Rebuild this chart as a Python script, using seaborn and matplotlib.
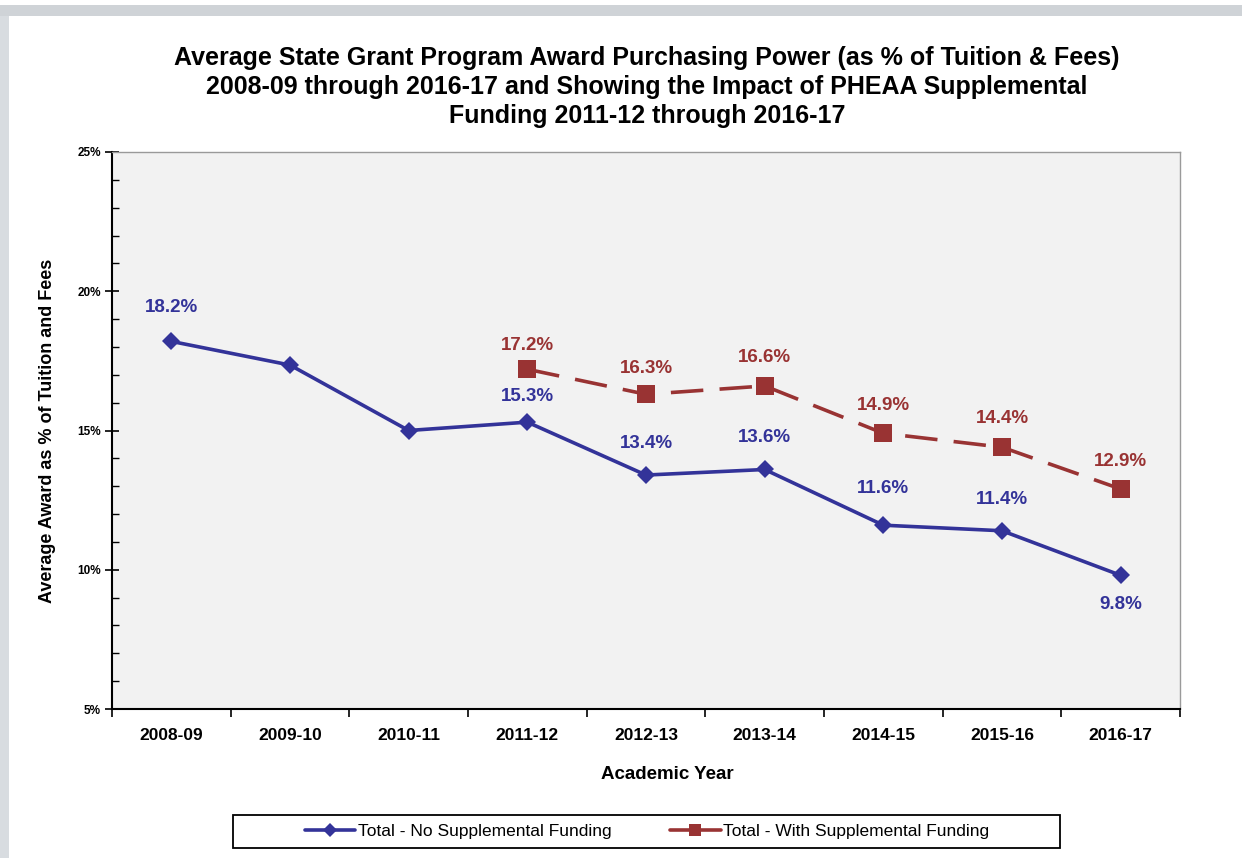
import numpy as np
import pandas as pd
import seaborn as sns
import matplotlib.pyplot as plt
from matplotlib.patches import Rectangle
from matplotlib.lines import Line2D

years = ['2008-09', '2009-10', '2010-11', '2011-12', '2012-13', '2013-14', '2014-15', '2015-16', '2016-17']
no_supp = [18.2, 17.35, 15.0, 15.3, 13.4, 13.6, 11.6, 11.4, 9.8]
no_supp_labels = ['18.2%', '', '', '15.3%', '13.4%', '13.6%', '11.6%', '11.4%', '9.8%']
supp_years = ['2011-12', '2012-13', '2013-14', '2014-15', '2015-16', '2016-17']
with_supp = [17.2, 16.3, 16.6, 14.9, 14.4, 12.9]
with_supp_labels = ['17.2%', '16.3%', '16.6%', '14.9%', '14.4%', '12.9%']
y_ticks = [5, 10, 15, 20, 25]

blue = '#333399'
red = '#993333'

sns.set_style('white')
plt.rcParams['font.family'] = ['Liberation Sans', 'DejaVu Sans']
plt.rcParams['text.color'] = 'black'
plt.rcParams['axes.labelcolor'] = 'black'
plt.rcParams['xtick.color'] = 'black'
plt.rcParams['ytick.color'] = 'black'

fig = plt.figure(figsize=(12.42, 8.58), dpi=100)

# slide frame bits
fig.patches.append(Rectangle((0, 1 - 16 / 858), 1, 11 / 858, transform=fig.transFigure,
                             facecolor='#cfd3d7', edgecolor='none', zorder=0))
fig.patches.append(Rectangle((0, 0), 9 / 1242, 1 - 16 / 858, transform=fig.transFigure,
                             facecolor='#d8dce0', edgecolor='none', zorder=0))

ax = fig.add_axes([112 / 1242, 1 - 709 / 858, 1068 / 1242, 557 / 858])
ax.set_facecolor('#f2f2f2')

df1 = pd.DataFrame({'pos': [years.index(y) for y in years], 'pct': no_supp})
df2 = pd.DataFrame({'pos': [years.index(y) for y in supp_years], 'pct': with_supp})

sns.lineplot(data=df1, x='pos', y='pct', ax=ax, color=blue, lw=2.6, marker='D',
             markersize=9.5, markeredgecolor=blue, markeredgewidth=0)
sns.lineplot(data=df2, x='pos', y='pct', ax=ax, color=red, lw=2.6, marker='s',
             markersize=13.5, markeredgecolor=red, markeredgewidth=0,
             linestyle=(0, (9, 4.5)))

# data labels (pixel offsets from the point)
blue_off = [34, 0, 0, 26, 32, 32, 37, 31, -29]
red_off = [24, 26, 28, 28, 29, 27]
for x, v, lab, off in zip(df1['pos'], no_supp, no_supp_labels, blue_off):
    if lab:
        ax.annotate(lab, (x, v), xytext=(0, off), textcoords='offset pixels',
                    ha='center', va='center', color=blue, fontsize=13.5, fontweight='bold')
for x, v, lab, off in zip(df2['pos'], with_supp, with_supp_labels, red_off):
    ax.annotate(lab, (x, v), xytext=(0, off), textcoords='offset pixels',
                ha='center', va='center', color=red, fontsize=13.5, fontweight='bold')

ax.set_xlim(-0.5, len(years) - 0.5)
ax.set_ylim(5, 25)
ax.set_xticks(range(len(years)))
ax.set_xticklabels(years, fontsize=12.5, fontweight='bold')
ax.set_xticks(np.arange(-0.5, len(years), 1), minor=True)
ax.tick_params(axis='x', which='major', bottom=True, length=0, pad=14)
ax.tick_params(axis='x', which='minor', bottom=True, length=6, width=1.2, direction='out', color='black')
ax.set_yticks(y_ticks)
ax.set_yticklabels([f'{t}%' for t in y_ticks], fontsize=8.5, fontweight='bold')
ax.set_yticks(np.arange(5, 26, 1), minor=True)
ax.tick_params(axis='y', which='major', left=True, length=10, width=1.2, direction='inout', color='black', pad=3)
ax.tick_params(axis='y', which='minor', left=True, length=5, width=1, direction='in', color='black')

for s in ['left', 'bottom']:
    ax.spines[s].set_color('black')
    ax.spines[s].set_linewidth(1.5)
for s in ['top', 'right']:
    ax.spines[s].set_color('#9a9a9a')
    ax.spines[s].set_linewidth(1)

ax.set_xlabel('Academic Year', fontsize=13.5, fontweight='bold')
ax.xaxis.set_label_coords(0.52, -0.102)
ax.set_ylabel('Average Award as % of Tuition and Fees', fontsize=13, fontweight='bold')
ax.yaxis.set_label_coords(-0.052, 0.5)

fig.text(647 / 1242, 1 - 46 / 858,
         'Average State Grant Program Award Purchasing Power (as % of Tuition & Fees)\n'
         '2008-09 through 2016-17 and Showing the Impact of PHEAA Supplemental\n'
         'Funding 2011-12 through 2016-17',
         ha='center', va='top', fontsize=18, fontweight='bold', linespacing=1.26)

# legend box
fig.patches.append(Rectangle((233 / 1242, 1 - 848 / 858), 827 / 1242, 33 / 858,
                             transform=fig.transFigure, facecolor='white',
                             edgecolor='black', linewidth=1.3, zorder=1))
handles = [Line2D([], [], color=blue, lw=2.6, marker='D', markersize=7, markeredgewidth=0),
           Line2D([], [], color=red, lw=2.6, marker='s', markersize=9, markeredgewidth=0)]
fig.legend(handles, ['Total - No Supplemental Funding', 'Total - With Supplemental Funding'],
           loc='center', bbox_to_anchor=(647 / 1242, 1 - 831 / 858), ncol=2, frameon=False,
           fontsize=12.5, handlelength=2.9, handletextpad=0.15, columnspacing=3.4)

fig.savefig('out.png', dpi=100)
